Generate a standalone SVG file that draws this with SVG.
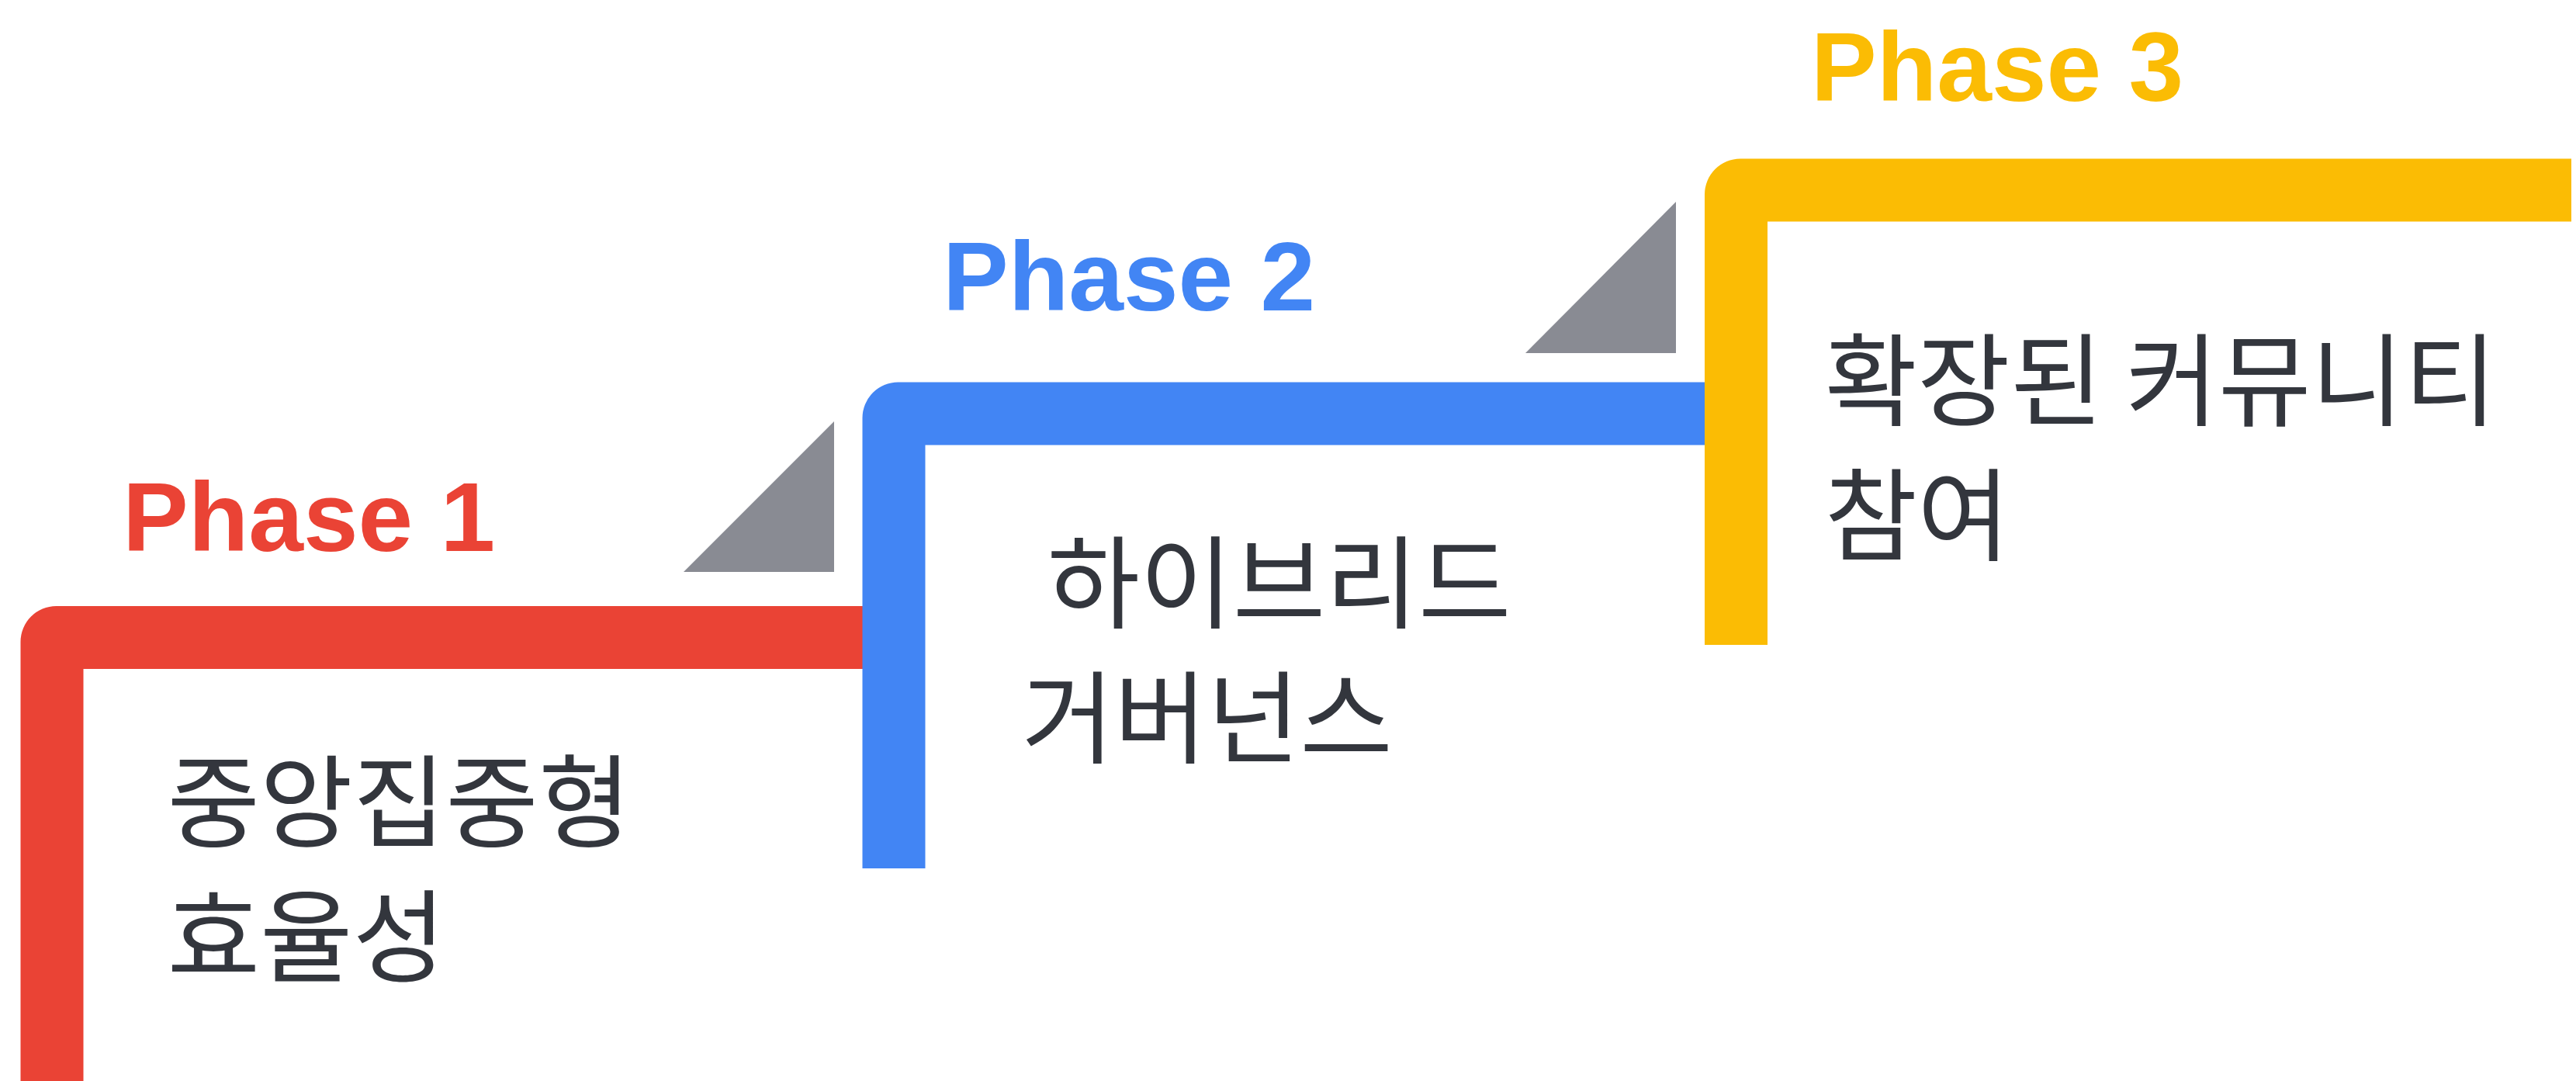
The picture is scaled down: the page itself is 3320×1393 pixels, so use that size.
<svg xmlns="http://www.w3.org/2000/svg" width="3320" height="1393" viewBox="0 0 3320 1393">
<style>
.tri{fill:#898b93}
.lbl{font-family:"Liberation Sans",Arial,sans-serif;font-weight:700;font-size:127px}
.body{font-family:"Noto Sans CJK KR","Noto Sans",sans-serif;font-size:130px;fill:#33363d}
</style>
<rect width="3320" height="1393" fill="#ffffff"/>
<g id="connectors"/>
<g id="phase1">
<path fill="#ea4335" d="M26.5 1400 V827 A46 46 0 0 1 72.5 781 H1150 V862 H107.5 V1400 Z"/>
<text class="lbl" fill="#ea4335" x="158" y="710">Phase 1</text>
<text class="body" x="215.5" y="1081">중앙집중형</text>
<text class="body" x="215.5" y="1255">효율성</text>
</g>
<g id="phase2">
<polygon class="tri" points="881,737 1075,737 1075,543"/>
<path fill="#4285f4" d="M1111.5 1119 V538.5 A46 46 0 0 1 1157.5 492.5 H2237 V573.5 H1192.5 V1119 Z"/>
<text class="lbl" fill="#4285f4" x="1215" y="400">Phase 2</text>
<text class="body" x="1349.5" y="799">하이브리드</text>
<text class="body" x="1316.5" y="973">거버넌스</text>
</g>
<g id="phase3">
<polygon class="tri" points="1966,455 2160,455 2160,260"/>
<path fill="#fbbc04" d="M2197 831 V250.5 A46 46 0 0 1 2243 204.5 H3314 V285.5 H2278 V831 Z"/>
<text class="lbl" fill="#fbbc04" x="2334" y="130">Phase 3</text>
<text class="body" x="2351.5" y="538">확장된 커뮤니티</text>
<text class="body" x="2351.5" y="712">참여</text>
</g>
</svg>
